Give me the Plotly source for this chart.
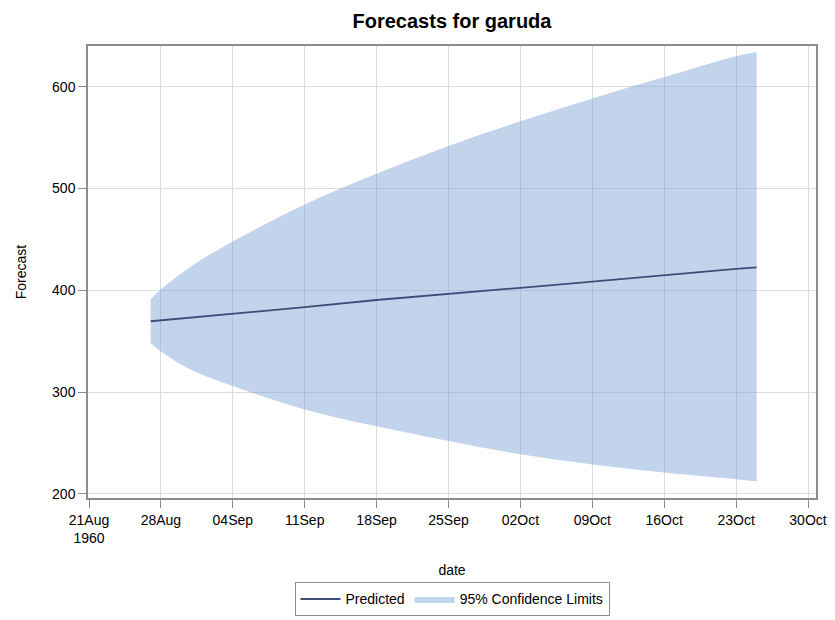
import plotly.graph_objects as go

# Forecast horizon (daily forecasts, sampled where read)
dates = ["1960-08-27", "1960-08-28", "1960-08-31", "1960-09-04", "1960-09-11",
         "1960-09-18", "1960-09-25", "1960-10-02", "1960-10-09", "1960-10-16",
         "1960-10-23", "1960-10-25"]
predicted = [369.6, 370.5, 373.2, 377.0, 383.4, 390.5, 396.8, 402.5, 408.5,
             415.0, 421.0, 422.5]
lower_95 = [348.2, 340.0, 321.7, 306.0, 283.0, 266.5, 252.0, 239.0, 229.0,
            221.0, 214.5, 212.5]
upper_95 = [391.0, 401.0, 424.0, 448.0, 484.4, 514.5, 541.8, 566.0, 588.5,
            609.5, 630.0, 634.0]

tick_dates = ["1960-08-21", "1960-08-28", "1960-09-04", "1960-09-11", "1960-09-18",
              "1960-09-25", "1960-10-02", "1960-10-09", "1960-10-16", "1960-10-23",
              "1960-10-30"]
tick_text = ["21Aug<br>1960", "28Aug", "04Sep", "11Sep", "18Sep", "25Sep",
             "02Oct", "09Oct", "16Oct", "23Oct", "30Oct"]
y_ticks = [200, 300, 400, 500, 600]

band_fill = "rgba(120,160,212,0.45)"
line_color = "#3E4D78"
frame_color = "#8C8C8C"
font_family = "Liberation Sans, Arial, sans-serif"

fig = go.Figure()

fig.add_trace(go.Scatter(
    x=dates, y=lower_95, mode="lines",
    line=dict(width=0, shape="spline", smoothing=1.0, color=band_fill),
    showlegend=False, hoverinfo="skip",
))
fig.add_trace(go.Scatter(
    x=dates, y=upper_95, mode="lines", fill="tonexty", fillcolor=band_fill,
    line=dict(width=0, shape="spline", smoothing=1.0, color=band_fill),
    name="95% Confidence Limits", legendrank=2,
))
fig.add_trace(go.Scatter(
    x=dates, y=predicted, mode="lines",
    line=dict(width=1.8, color=line_color),
    name="Predicted", legendrank=1,
))

axis_common = dict(
    showline=True, linecolor=frame_color, linewidth=1.5, mirror=True,
    showgrid=True, gridcolor="#DCDCDC", gridwidth=1,
    ticks="outside", ticklen=8, tickwidth=1, tickcolor=frame_color,
    tickfont=dict(family=font_family, size=14, color="#000000"),
    zeroline=False,
)

fig.update_layout(
    width=835, height=620,
    margin=dict(l=88, r=19, t=46, b=122, autoexpand=False),
    paper_bgcolor="white", plot_bgcolor="white",
    font=dict(family=font_family, color="#000000"),
    title=dict(text="<b>Forecasts for garuda</b>", x=0.5, xanchor="center",
               xref="paper", y=0.966, yanchor="middle",
               font=dict(family=font_family, size=20, color="#000000")),
    xaxis=dict(
        range=["1960-08-20 21:40", "1960-10-30 18:40"],
        tickmode="array", tickvals=tick_dates, ticktext=tick_text,
        title=dict(text="date", font=dict(family=font_family, size=14), standoff=20),
        **axis_common,
    ),
    yaxis=dict(
        range=[196, 640],
        tickmode="array", tickvals=y_ticks,
        title=dict(text="Forecast", font=dict(family=font_family, size=14), standoff=22),
        **axis_common,
    ),
    legend=dict(
        orientation="h", x=0.5, xanchor="center", y=-0.262, yanchor="bottom",
        bordercolor="#8C8C8C", borderwidth=1,
        font=dict(family=font_family, size=14, color="#000000"),
        traceorder="normal", itemwidth=40,
    ),
    showlegend=True,
)

fig.write_html("out.html")
